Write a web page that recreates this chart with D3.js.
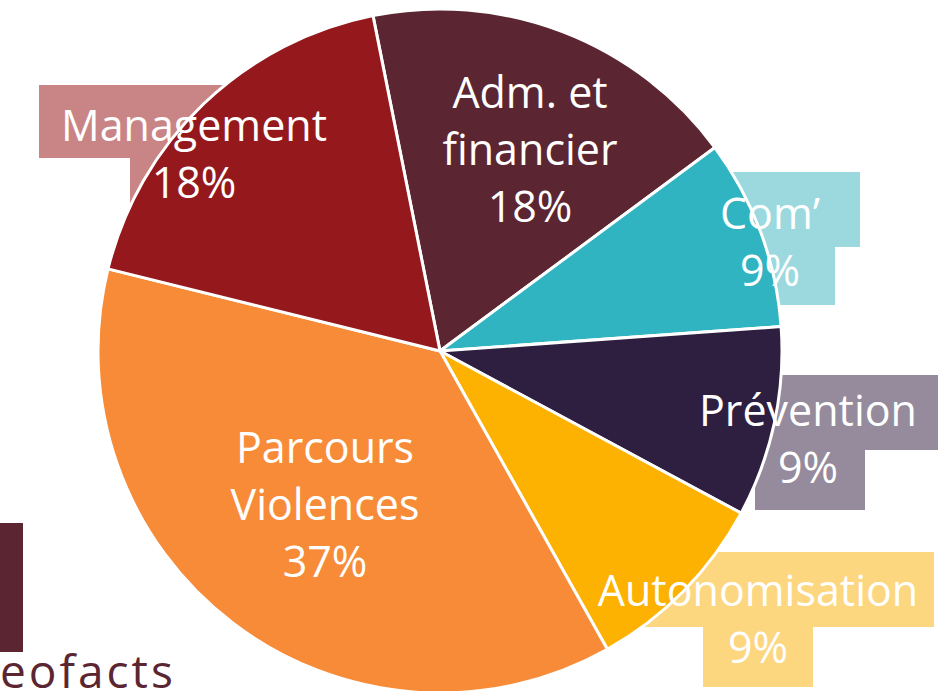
<!DOCTYPE html>
<html><head><meta charset="utf-8">
<script src="https://cdn.jsdelivr.net/npm/d3@7"></script>
<style>html,body{margin:0;padding:0;background:#fff;overflow:hidden}</style>
</head><body>
<svg id="c" width="938" height="691"></svg>
<script>
// Data
const categories = ["Adm. et financier", "Com'", "Prévention", "Autonomisation", "Parcours Violences", "Management"];
const values = [18, 9, 9, 9, 37, 18];
const labelLines = [["Adm. et", "financier"], ["Com’"], ["Prévention"], ["Autonomisation"], ["Parcours", "Violences"], ["Management"]];
const sliceColors = ["#5b2631", "#31b4c1", "#2e1e40", "#fdb100", "#f78b38", "#95191c"];
const boxColors = [null, "#9bd9de", "#958b9c", "#fdd680", null, "#c98586"];

// Layout (positions of labels)
const layout = [
  {x: 530, y: 108, boxes: null},
  {x: 770, y: 229, boxes: [[700, 172, 860, 247], [700, 247, 835, 305]]},
  {x: 808, y: 426, boxes: [[690, 375, 938, 450], [755, 450, 865, 510]]},
  {x: 758, y: 606, boxes: [[640, 552, 934, 627], [703, 627, 813, 687]]},
  {x: 325, y: 463, boxes: null},
  {x: 194, y: 141, boxes: [[39, 85, 340, 158], [130, 158, 300, 208]]}
];

const svg = d3.select("#c");
const cx = 440, cy = 351, R = 342;
const lh = 57;
const font = "'Open Sans', sans-serif";

// Legend fragment
svg.append("rect").attr("x", 0).attr("y", 523).attr("width", 23).attr("height", 129).attr("fill", "#5b2631");
svg.append("text").attr("x", 0).attr("y", 688).attr("font-family", font).attr("font-size", 46)
  .attr("letter-spacing", 3).attr("fill", "#5b2631").text("eofacts");

// Label boxes (behind pie)
layout.forEach((l, i) => {
  if (!l.boxes) return;
  l.boxes.forEach(b => {
    svg.append("rect").attr("x", b[0]).attr("y", b[1]).attr("width", b[2] - b[0]).attr("height", b[3] - b[1])
      .attr("fill", boxColors[i]);
  });
});

const startA = -11.3 * Math.PI / 180;
const pie = d3.pie().sort(null).value(d => d).startAngle(startA).endAngle(startA + 2 * Math.PI);
const arc = d3.arc().innerRadius(0).outerRadius(R);
const g = svg.append("g").attr("transform", `translate(${cx},${cy})`);
g.selectAll("path").data(pie(values)).join("path")
  .attr("d", arc).attr("fill", (d, i) => sliceColors[i])
  .attr("stroke", "#fff").attr("stroke-width", 3).attr("stroke-linejoin", "round");

// Labels
layout.forEach((l, i) => {
  const lines = labelLines[i].concat([values[i] + "%"]);
  const t = svg.append("text").attr("font-family", font).attr("font-size", 43)
    .attr("fill", "#fff").attr("text-anchor", "middle");
  lines.forEach((s, k) => {
    t.append("tspan").attr("x", l.x).attr("y", l.y + k * lh).text(s);
  });
});
</script>
</body></html>
